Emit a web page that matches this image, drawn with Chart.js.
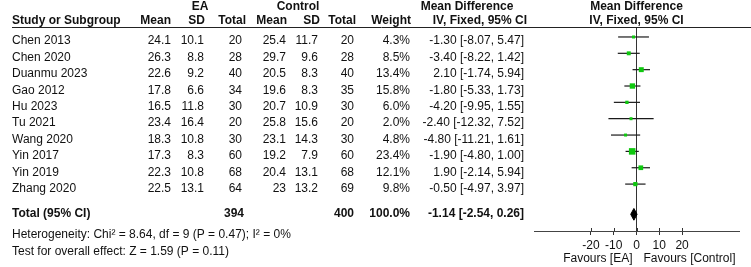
<!DOCTYPE html>
<html>
<head>
<meta charset="utf-8">
<script src="https://cdn.jsdelivr.net/npm/chart.js@4.4.1/dist/chart.umd.min.js"></script>
<style>
  html, body { margin: 0; padding: 0; background: #fff; }
</style>
</head>
<body>
<canvas id="forest" width="751" height="267"></canvas>
<script>
const studies = ["Chen 2013", "Chen 2020", "Duanmu 2023", "Gao 2012", "Hu 2023", "Tu 2021", "Wang 2020", "Yin 2017", "Yin 2019", "Zhang 2020"]
const eaMean = [24.1, 26.3, 22.6, 17.8, 16.5, 23.4, 18.3, 17.3, 22.3, 22.5]
const eaSD = [10.1, 8.8, 9.2, 6.6, 11.8, 16.4, 10.8, 8.3, 10.8, 13.1]
const eaTotal = [20, 28, 40, 34, 30, 20, 30, 60, 68, 64]
const ctrlMean = [25.4, 29.7, 20.5, 19.6, 20.7, 25.8, 23.1, 19.2, 20.4, 23]
const ctrlSD = [11.7, 9.6, 8.3, 8.3, 10.9, 15.6, 14.3, 7.9, 13.1, 13.2]
const ctrlTotal = [20, 28, 40, 35, 30, 20, 30, 60, 68, 69]
const weight = [4.3, 8.5, 13.4, 15.8, 6.0, 2.0, 4.8, 23.4, 12.1, 9.8]
const meanDiff = [-1.30, -3.40, 2.10, -1.80, -4.20, -2.40, -4.80, -1.90, 1.90, -0.50]
const ciLow = [-8.07, -8.22, -1.74, -5.33, -9.95, -12.32, -11.21, -4.80, -2.14, -4.97]
const ciHigh = [5.47, 1.42, 5.94, 1.73, 1.55, 7.52, 1.61, 1.00, 5.94, 3.97]
const totalEA = 394
const totalCtrl = 400
const totalWeight = 100.0
const totalDiff = [-1.14, -2.54, 0.26]   // estimate, low, high
const xTicks = [-20, -10, 0, 10, 20]
const heterogeneity = "Heterogeneity: Chi² = 8.64, df = 9 (P = 0.47); I² = 0%"
const overallTest = "Test for overall effect: Z = 1.59 (P = 0.11)"

const FONT = '"Liberation Sans", Arial, sans-serif'
const GREEN = "#0fc80f"
const totalRow = 10.85

// one line per study for the confidence interval (order 1 = drawn underneath)
const ciSets = studies.map((s, i) => ({
  type: "line",
  order: 1,
  data: [{ x: ciLow[i], y: i }, { x: ciHigh[i], y: i }],
  borderColor: "#1a1a1a",
  borderWidth: 1.2,
  pointRadius: 0
}))

const squares = {
  type: "scatter",
  order: 0,
  data: meanDiff.map((v, i) => ({ x: v, y: i })),
  pointStyle: "rect",
  pointRadius: weight.map(w => Math.max(3, 1.35 * Math.sqrt(w)) / Math.SQRT2),
  backgroundColor: GREEN,
  borderWidth: 0
}

const diamond = {
  type: "line",
  order: 0,
  data: [
    { x: totalDiff[1], y: totalRow },
    { x: totalDiff[0], y: totalRow - 0.36 },
    { x: totalDiff[2], y: totalRow },
    { x: totalDiff[0], y: totalRow + 0.36 },
    { x: totalDiff[1], y: totalRow }
  ],
  borderColor: "#000",
  borderWidth: 1,
  backgroundColor: "#000",
  fill: "shape",
  pointRadius: 0,
  tension: 0
}

const tablePlugin = {
  id: "table",
  afterDraw(chart) {
    const ctx = chart.ctx
    const xs = chart.scales.x
    const area = chart.chartArea
    const text = (s, x, y, align, bold) => {
      ctx.font = (bold ? "bold " : "") + "12px " + FONT
      ctx.textAlign = align
      ctx.fillText(s, x, y)
    }
    ctx.save()
    ctx.fillStyle = "#111"
    ctx.textBaseline = "middle"

    // header
    const plotMid = (area.left + area.right) / 2
    text("EA", 200, 7, "center", true)
    text("Control", 298, 7, "center", true)
    text("Mean Difference", 467, 7, "center", true)
    text("Mean Difference", plotMid, 7, "center", true)
    text("Study or Subgroup", 12, 21, "left", true)
    text("Mean", 171, 21, "right", true)
    text("SD", 205, 21, "right", true)
    text("Total", 246, 21, "right", true)
    text("Mean", 287, 21, "right", true)
    text("SD", 320, 21, "right", true)
    text("Total", 356, 21, "right", true)
    text("Weight", 411, 21, "right", true)
    text("IV, Fixed, 95% CI", 527, 21, "right", true)
    text("IV, Fixed, 95% CI", plotMid, 21, "center", true)

    ctx.strokeStyle = "#222"
    ctx.lineWidth = 1
    ctx.beginPath()
    ctx.moveTo(12, 27.5)
    ctx.lineTo(751, 27.5)
    ctx.stroke()

    // study rows
    studies.forEach((s, i) => {
      const y = 41 + 16.4 * i
      text(s, 12, y, "left")
      text(String(eaMean[i]), 171, y, "right")
      text(String(eaSD[i]), 204, y, "right")
      text(String(eaTotal[i]), 242, y, "right")
      text(String(ctrlMean[i]), 286, y, "right")
      text(String(ctrlSD[i]), 318, y, "right")
      text(String(ctrlTotal[i]), 354, y, "right")
      text(weight[i].toFixed(1) + "%", 410, y, "right")
      text(meanDiff[i].toFixed(2) + " [" + ciLow[i].toFixed(2) + ", " + ciHigh[i].toFixed(2) + "]", 524, y, "right")
    })

    // total row
    text("Total (95% CI)", 12, 214, "left", true)
    text(String(totalEA), 244, 214, "right", true)
    text(String(totalCtrl), 354, 214, "right", true)
    text(totalWeight.toFixed(1) + "%", 410, 214, "right", true)
    text(totalDiff[0].toFixed(2) + " [" + totalDiff[1].toFixed(2) + ", " + totalDiff[2].toFixed(2) + "]", 524, 214, "right", true)
    text(heterogeneity, 12, 235, "left")
    text(overallTest, 12, 252, "left")

    // tick marks also poke above the axis
    ctx.strokeStyle = "#333"
    xTicks.forEach(v => {
      const px = Math.round(xs.getPixelForValue(v)) + 0.5
      ctx.beginPath()
      ctx.moveTo(px, area.bottom - 3)
      ctx.lineTo(px, area.bottom)
      ctx.stroke()
    })

    const zero = xs.getPixelForValue(0)
    text("Favours [EA]", zero - 4, 259, "right")
    text("Favours [Control]", zero + 7, 259, "left")
    ctx.restore()
  }
}

new Chart(document.getElementById("forest"), {
  data: { datasets: [...ciSets, squares, diamond] },
  options: {
    responsive: false,
    animation: false,
    devicePixelRatio: 1,
    layout: { padding: { left: 534, right: 12, top: 27, bottom: 0 } },
    plugins: {
      legend: { display: false },
      tooltip: { enabled: false }
    },
    scales: {
      x: {
        type: "linear",
        min: -45,
        max: 45,
        afterBuildTicks: s => { s.ticks = xTicks.map(v => ({ value: v })) },
        afterFit: s => { s.height = 36 },
        ticks: {
          color: "#111",
          padding: 3,
          font: { family: FONT, size: 12 }
        },
        grid: {
          drawOnChartArea: true,
          color: c => (c.tick && c.tick.value === 0 ? "#333" : "rgba(0,0,0,0)"),
          tickColor: "#333",
          tickLength: 4,
          lineWidth: 1
        },
        border: { display: true, color: "#444", width: 1 }
      },
      y: {
        type: "linear",
        display: false,
        reverse: true,
        min: -0.61,
        max: 11.87
      }
    }
  },
  plugins: [tablePlugin]
})
</script>
</body>
</html>
